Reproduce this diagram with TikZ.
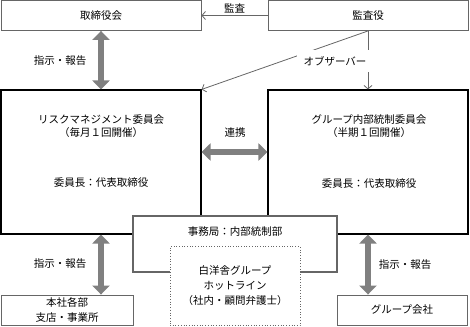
\documentclass[tikz,border=0pt]{standalone}
\usepackage{fontspec}
\setmainfont{Noto Sans CJK JP}
\usepackage{tikz}
\usetikzlibrary{arrows.meta,positioning,calc}
\definecolor{cLine}{HTML}{666666}
\definecolor{cArrow}{HTML}{808080}

\begin{document}
\begin{tikzpicture}[
    x=1pt, y=-1pt,
    font=\fontsize{10.5}{13}\selectfont,
    every node/.style={align=center, inner sep=0pt},
    thinbox/.style={draw=cLine, line width=0.9pt, fill=white},
    bigbox/.style={draw=black, line width=1.1pt, fill=white},
    officebox/.style={draw=cLine, line width=1.4pt, fill=white},
    hotbox/.style={draw=cLine, line width=0.7pt, dotted, fill=white},
    bigarrow/.style={draw=cArrow, line width=6pt,
      {Triangle[width=17pt,length=9pt]}-{Triangle[width=17pt,length=9pt]}},
    thinarrow/.style={draw=cLine, line width=0.8pt, -{Straight Barb[length=3.5pt,width=8pt]}},
]
\useasboundingbox (0,0) rectangle (470,326);

% ---- top row ----
\node[thinbox, minimum width=200pt, minimum height=30pt] (board) at (101,15.5) {取締役会};
\node[thinbox, minimum width=200pt, minimum height=30pt] (audit) at (368,15.5) {監査役};

% ---- committees ----
\node[bigbox, minimum width=200pt, minimum height=144pt] (risk) at (101,162) {};
\node[bigbox, minimum width=200pt, minimum height=144pt] (grc) at (368,162) {};
\node (risktitle) at (101,126) {リスクマネジメント委員会\\（毎月１回開催）};
\node (riskchair) at (101,183) {委員長：代表取締役};
\node (grctitle) at (369,126) {グループ内部統制委員会\\（半期１回開催）};
\node (grcchair) at (369,184) {委員長：代表取締役};

% ---- secretariat and hotline ----
\node[officebox, minimum width=204pt, minimum height=56pt] (office) at (235,244) {};
\node (officetxt) at (235,232) {事務局：内部統制部};
\node[hotbox, minimum width=130pt, minimum height=79pt,
      font=\fontsize{10.5}{15}\selectfont] (hotline) at (235,286)
      {白洋舎グループ\\ホットライン\\（社内・顧問弁護士）};

% ---- bottom row ----
\node[thinbox, minimum width=132pt, minimum height=30pt,
      font=\fontsize{10.5}{15}\selectfont] (hq) at (67,310) {本社各部\\支店・事業所};
\node[thinbox, minimum width=130pt, minimum height=30pt] (gco) at (402,310) {グループ会社};

% ---- arrows ----
\draw[thinarrow] (audit.west) -- node[above=2pt] (auditlbl) {監査} (board.east);
\draw[thinarrow] (audit.south) -- (grc.north);
\draw[thinarrow] (audit.south) -- (risk.north east);
\node[fill=white, inner xsep=7pt, inner ysep=6pt] (observer) at (335,61) {オブザーバー};

\draw[bigarrow] (board.south) -- (risk.north);
\node (instr1) at (60,61) {指示・報告};
\draw[bigarrow] ([yshift=10pt]risk.east) -- ([yshift=10pt]grc.west);
\node (link) at (235,133) {連携};
\draw[bigarrow] (risk.south) -- (risk.south |- hq.north);
\node (instr2) at (60,264) {指示・報告};
\draw[bigarrow] (grc.south) -- (grc.south |- gco.north);
\node (instr3) at (405,265) {指示・報告};

\end{tikzpicture}
\end{document}
